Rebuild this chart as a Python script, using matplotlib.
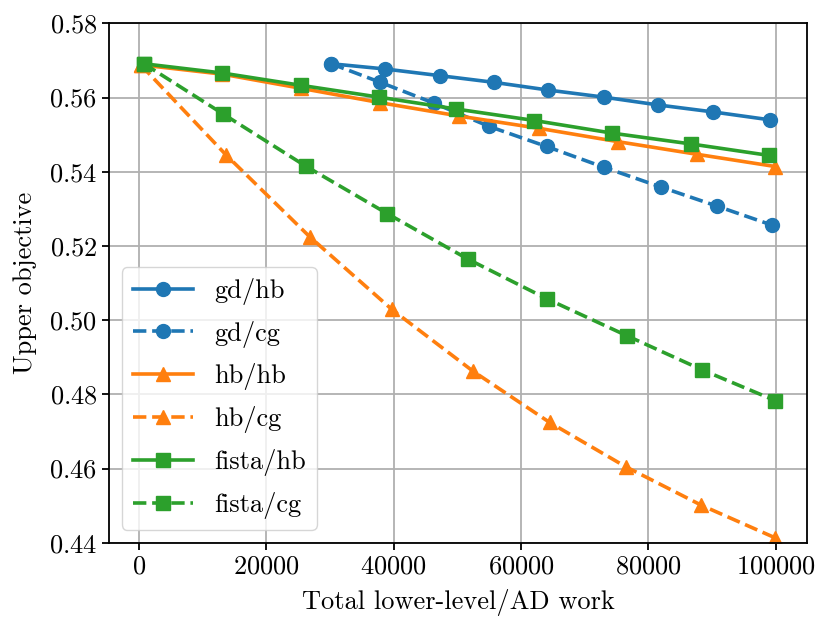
import numpy as np
import matplotlib
matplotlib.use("Agg")
import matplotlib.pyplot as plt

plt.rcParams['font.family'] = 'serif'
plt.rcParams['font.serif'] = ['cmr10', 'DejaVu Serif']
plt.rcParams['mathtext.fontset'] = 'cm'
plt.rcParams['axes.formatter.use_mathtext'] = True
plt.rcParams['font.size'] = 19

# data (work in units of 1, objective values)
gd_hb_x = [30200, 38600, 47200, 55700, 64300, 73000, 81500, 90200, 99000]
gd_hb_y = [0.5691, 0.5677, 0.5659, 0.5641, 0.5620, 0.5601, 0.5580, 0.5561, 0.5540]

gd_cg_x = [30200, 37900, 46300, 55000, 64000, 73000, 81900, 90800, 99400]
gd_cg_y = [0.5691, 0.5641, 0.5585, 0.5522, 0.5468, 0.5412, 0.5359, 0.5307, 0.5256]

hb_hb_x = [300, 13100, 25400, 37900, 50300, 62800, 75200, 87600, 99900]
hb_hb_y = [0.5688, 0.5663, 0.5625, 0.5586, 0.5550, 0.5517, 0.5481, 0.5447, 0.5414]

hb_cg_x = [300, 13700, 26800, 39700, 52400, 64500, 76400, 88300, 99900]
hb_cg_y = [0.5688, 0.5445, 0.5225, 0.5029, 0.4863, 0.4724, 0.4605, 0.4501, 0.4413]

fista_hb_x = [800, 13100, 25400, 37700, 49800, 62100, 74300, 86600, 98900]
fista_hb_y = [0.5691, 0.5666, 0.5633, 0.5601, 0.5569, 0.5538, 0.5504, 0.5475, 0.5444]

fista_cg_x = [800, 13200, 26200, 39000, 51700, 64100, 76600, 88400, 99900]
fista_cg_y = [0.5691, 0.5556, 0.5415, 0.5287, 0.5164, 0.5057, 0.4958, 0.4866, 0.4783]

fig = plt.figure(figsize=(8.31, 6.32), dpi=100)
ax = fig.add_axes([0.1312, 0.1413, 0.9711 - 0.1312, 0.9631 - 0.1413])

lw = 2.6
ms = 10
ax.plot(gd_hb_x, gd_hb_y, '-', color='C0', marker='o', lw=lw, ms=ms, label='gd/hb')
ax.plot(gd_cg_x, gd_cg_y, '--', color='C0', marker='o', lw=lw, ms=ms, label='gd/cg')
ax.plot(hb_hb_x, hb_hb_y, '-', color='C1', marker='^', lw=lw, ms=ms, label='hb/hb')
ax.plot(hb_cg_x, hb_cg_y, '--', color='C1', marker='^', lw=lw, ms=ms, label='hb/cg')
ax.plot(fista_hb_x, fista_hb_y, '-', color='C2', marker='s', lw=lw, ms=ms, label='fista/hb')
ax.plot(fista_cg_x, fista_cg_y, '--', color='C2', marker='s', lw=lw, ms=ms, label='fista/cg')

ax.set_ylim(0.44, 0.58)
ax.set_xticks([0, 20000, 40000, 60000, 80000, 100000])
ax.set_yticks(np.arange(0.44, 0.581, 0.02))
ax.grid(True, color='#b0b0b0', lw=1.3)
ax.set_axisbelow(True)
ax.tick_params(width=1.3, length=5)
for s in ax.spines.values():
    s.set_linewidth(1.3)

ax.set_xlabel('Total lower-level/AD work', labelpad=8)
ax.set_ylabel('Upper objective', labelpad=9)
ax.legend(loc='lower left', handlelength=2.3, labelspacing=0.6)

fig.savefig('out.png', dpi=100)
